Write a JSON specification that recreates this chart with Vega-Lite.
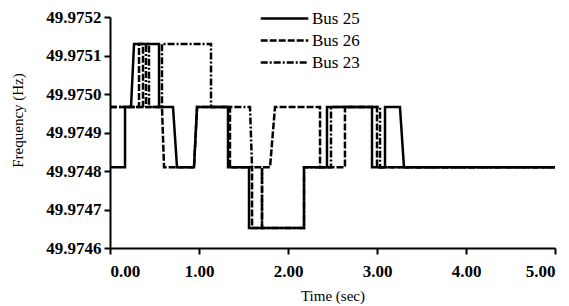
{
  "$schema": "https://vega.github.io/schema/vega-lite/v6.json",
  "autosize": "none",
  "width": 445,
  "height": 231,
  "padding": {"left": 110, "top": 17, "right": 14, "bottom": 58},
  "background": "white",
  "config": {
    "view": {"stroke": null},
    "font": "Liberation Serif, Times New Roman, serif",
    "axis": {"domainColor": "black", "tickColor": "black", "domainWidth": 2, "tickWidth": 2, "tickSize": 6, "grid": false, "labelColor": "black", "titleColor": "black", "labelFont": "Liberation Serif, Times New Roman, serif", "titleFont": "Liberation Serif, Times New Roman, serif", "labelFontWeight": "bold", "labelFontSize": 17, "titleFontWeight": "normal", "titleFontSize": 15},
    "legend": {"labelFont": "Liberation Serif, Times New Roman, serif"}
  },
  "data": {"values": [
    {"s": "Bus 25", "i": 0, "t": 0, "f": 49.97481},
    {"s": "Bus 25", "i": 1, "t": 0.169, "f": 49.97481},
    {"s": "Bus 25", "i": 2, "t": 0.169, "f": 49.974966},
    {"s": "Bus 25", "i": 3, "t": 0.236, "f": 49.974966},
    {"s": "Bus 25", "i": 4, "t": 0.27, "f": 49.97513},
    {"s": "Bus 25", "i": 5, "t": 0.551, "f": 49.97513},
    {"s": "Bus 25", "i": 6, "t": 0.551, "f": 49.974966},
    {"s": "Bus 25", "i": 7, "t": 0.708, "f": 49.974966},
    {"s": "Bus 25", "i": 8, "t": 0.753, "f": 49.97481},
    {"s": "Bus 25", "i": 9, "t": 0.944, "f": 49.97481},
    {"s": "Bus 25", "i": 10, "t": 0.978, "f": 49.974966},
    {"s": "Bus 25", "i": 11, "t": 1.326, "f": 49.974966},
    {"s": "Bus 25", "i": 12, "t": 1.326, "f": 49.97481},
    {"s": "Bus 25", "i": 13, "t": 1.562, "f": 49.97481},
    {"s": "Bus 25", "i": 14, "t": 1.562, "f": 49.974652},
    {"s": "Bus 25", "i": 15, "t": 2.18, "f": 49.974652},
    {"s": "Bus 25", "i": 16, "t": 2.18, "f": 49.97481},
    {"s": "Bus 25", "i": 17, "t": 2.438, "f": 49.97481},
    {"s": "Bus 25", "i": 18, "t": 2.438, "f": 49.974966},
    {"s": "Bus 25", "i": 19, "t": 2.944, "f": 49.974966},
    {"s": "Bus 25", "i": 20, "t": 2.944, "f": 49.97481},
    {"s": "Bus 25", "i": 21, "t": 3.09, "f": 49.97481},
    {"s": "Bus 25", "i": 22, "t": 3.09, "f": 49.974966},
    {"s": "Bus 25", "i": 23, "t": 3.258, "f": 49.974966},
    {"s": "Bus 25", "i": 24, "t": 3.303, "f": 49.97481},
    {"s": "Bus 25", "i": 25, "t": 5.0, "f": 49.97481},

    {"s": "Bus 26", "i": 0, "t": 0, "f": 49.974966},
    {"s": "Bus 26", "i": 1, "t": 0.326, "f": 49.974966},
    {"s": "Bus 26", "i": 2, "t": 0.326, "f": 49.97513},
    {"s": "Bus 26", "i": 3, "t": 0.371, "f": 49.97513},
    {"s": "Bus 26", "i": 4, "t": 0.371, "f": 49.974966},
    {"s": "Bus 26", "i": 5, "t": 0.584, "f": 49.974966},
    {"s": "Bus 26", "i": 6, "t": 0.607, "f": 49.97481},
    {"s": "Bus 26", "i": 7, "t": 0.944, "f": 49.97481},
    {"s": "Bus 26", "i": 8, "t": 0.978, "f": 49.974966},
    {"s": "Bus 26", "i": 9, "t": 1.348, "f": 49.974966},
    {"s": "Bus 26", "i": 10, "t": 1.348, "f": 49.97481},
    {"s": "Bus 26", "i": 11, "t": 1.596, "f": 49.97481},
    {"s": "Bus 26", "i": 12, "t": 1.596, "f": 49.974652},
    {"s": "Bus 26", "i": 13, "t": 1.708, "f": 49.974652},
    {"s": "Bus 26", "i": 14, "t": 1.708, "f": 49.97481},
    {"s": "Bus 26", "i": 15, "t": 1.798, "f": 49.97481},
    {"s": "Bus 26", "i": 16, "t": 1.854, "f": 49.974966},
    {"s": "Bus 26", "i": 17, "t": 2.36, "f": 49.974966},
    {"s": "Bus 26", "i": 18, "t": 2.36, "f": 49.97481},
    {"s": "Bus 26", "i": 19, "t": 2.64, "f": 49.97481},
    {"s": "Bus 26", "i": 20, "t": 2.64, "f": 49.974966},
    {"s": "Bus 26", "i": 21, "t": 3.0, "f": 49.974966},
    {"s": "Bus 26", "i": 22, "t": 3.0, "f": 49.97481},
    {"s": "Bus 26", "i": 23, "t": 5.0, "f": 49.97481},

    {"s": "Bus 23", "i": 0, "t": 0, "f": 49.974966},
    {"s": "Bus 23", "i": 1, "t": 0.404, "f": 49.974966},
    {"s": "Bus 23", "i": 2, "t": 0.404, "f": 49.97513},
    {"s": "Bus 23", "i": 3, "t": 0.438, "f": 49.97513},
    {"s": "Bus 23", "i": 4, "t": 0.438, "f": 49.974966},
    {"s": "Bus 23", "i": 5, "t": 0.584, "f": 49.974966},
    {"s": "Bus 23", "i": 6, "t": 0.584, "f": 49.97513},
    {"s": "Bus 23", "i": 7, "t": 1.135, "f": 49.97513},
    {"s": "Bus 23", "i": 8, "t": 1.135, "f": 49.974966},
    {"s": "Bus 23", "i": 9, "t": 1.573, "f": 49.974966},
    {"s": "Bus 23", "i": 10, "t": 1.596, "f": 49.97481},
    {"s": "Bus 23", "i": 11, "t": 1.708, "f": 49.97481},
    {"s": "Bus 23", "i": 12, "t": 1.708, "f": 49.974652},
    {"s": "Bus 23", "i": 13, "t": 2.18, "f": 49.974652},
    {"s": "Bus 23", "i": 14, "t": 2.18, "f": 49.97481},
    {"s": "Bus 23", "i": 15, "t": 2.483, "f": 49.97481},
    {"s": "Bus 23", "i": 16, "t": 2.483, "f": 49.974966},
    {"s": "Bus 23", "i": 17, "t": 3.034, "f": 49.974966},
    {"s": "Bus 23", "i": 18, "t": 3.034, "f": 49.97481},
    {"s": "Bus 23", "i": 19, "t": 5.0, "f": 49.97481}
  ]},
  "mark": {"type": "line", "color": "black", "strokeWidth": 2.5, "strokeCap": "butt", "clip": true},
  "encoding": {
    "x": {"field": "t", "type": "quantitative", "title": "Time (sec)",
      "scale": {"domain": [0, 5], "nice": false, "zero": false},
      "axis": {"values": [0, 1, 2, 3, 4, 5], "format": ".2f", "labelPadding": 9, "titlePadding": 9}},
    "y": {"field": "f", "type": "quantitative", "title": "Frequency (Hz)",
      "scale": {"domain": [49.9746, 49.9752], "nice": false, "zero": false},
      "axis": {"values": [49.9746, 49.9747, 49.9748, 49.9749, 49.975, 49.9751, 49.9752], "format": ".4f", "labelPadding": 3, "titlePadding": 20, "titleY": 103}},
    "order": {"field": "i", "type": "quantitative"},
    "detail": {"field": "s"},
    "strokeDash": {"field": "s", "type": "nominal", "title": null,
      "scale": {"domain": ["Bus 25", "Bus 26", "Bus 23"], "range": [[1, 0], [7, 2], [7, 2, 2, 2]]},
      "legend": {"orient": "none", "legendX": 161, "legendY": -12, "symbolType": "M-2,0H2", "symbolSize": 566, "symbolStrokeWidth": 2.5, "symbolStrokeColor": "black", "labelFontSize": 17, "labelColor": "black", "labelOffset": 14, "rowPadding": 0, "padding": 0}}
  }
}
